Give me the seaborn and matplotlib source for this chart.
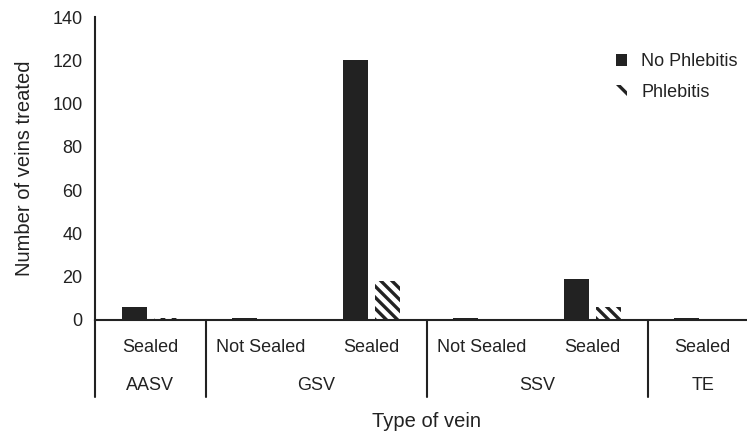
import numpy as np
import pandas as pd
import seaborn as sns
import matplotlib.pyplot as plt
from matplotlib.patches import Patch

sns.set_style("white")
plt.rcParams['font.family'] = ['Liberation Sans', 'DejaVu Sans']
plt.rcParams['hatch.linewidth'] = 2.4

# data
veins = ["AASV", "GSV", "GSV", "SSV", "SSV", "TE"]
status = ["Sealed", "Not Sealed", "Sealed", "Not Sealed", "Sealed", "Sealed"]
no_phlebitis = [6, 1, 120, 1, 19, 1]
phlebitis = [1, 0, 18, 0, 6, 0]

cats = ["%s|%s" % (v, s) for v, s in zip(veins, status)]
df = pd.DataFrame({
    "cat": cats * 2,
    "n": no_phlebitis + phlebitis,
    "grp": ["No Phlebitis"] * len(cats) + ["Phlebitis"] * len(cats),
})

fig = plt.figure(figsize=(7.47, 4.34), dpi=100)
ax = fig.add_axes([95 / 747, 114 / 434, 663 / 747, 303 / 434])

dark = "#222222"
sns.barplot(data=df, x="cat", y="n", hue="grp", order=cats,
            palette=[dark, "white"], width=0.58, gap=0.22,
            linewidth=0, ax=ax, legend=False)

# hatch the phlebitis bars
nb = len(cats)
for i, p in enumerate(ax.patches):
    if i >= nb:
        p.set_hatch("\\\\\\")
        p.set_edgecolor(dark)
        p.set_linewidth(0)

ax.set_ylim(0, 140)
ax.set_xlim(-0.5, 5.5)
ax.set_yticks(range(0, 141, 20))
ax.tick_params(axis="y", labelsize=13, colors=dark, length=0, pad=9)
ax.set_xticks([])
ax.set_xlabel("")
ax.set_ylabel("Number of veins treated", fontsize=14.5, color=dark, labelpad=13)
for s in ["top", "right"]:
    ax.spines[s].set_visible(False)
for s in ["left", "bottom"]:
    ax.spines[s].set_color(dark)
    ax.spines[s].set_linewidth(1.5)

# multi-level x labels
trans = ax.get_xaxis_transform()
ybot = -0.255
for i, s in enumerate(status):
    ax.text(i, -0.09, s, transform=trans, ha="center", va="center", fontsize=13, color=dark)
groups = []
for i, v in enumerate(veins):
    if groups and groups[-1][0] == v:
        groups[-1][2] = i
    else:
        groups.append([v, i, i])
for v, a, b in groups:
    ax.text((a + b) / 2, -0.215, v, transform=trans, ha="center", va="center", fontsize=13, color=dark)
    ax.plot([a - 0.5, a - 0.5], [ybot, 0], transform=trans, color=dark, lw=1.5, clip_on=False)
ax.plot([5.5, 5.5], [ybot, 0], transform=trans, color=dark, lw=1.5, clip_on=False)
ax.text(0.5, -0.335, "Type of vein", transform=ax.transAxes, ha="center", va="center",
        fontsize=14.5, color=dark)

# legend
handles = [Patch(facecolor=dark, edgecolor=dark, linewidth=0, label="No Phlebitis"),
           Patch(facecolor="white", edgecolor=dark, linewidth=0, hatch="\\\\", label="Phlebitis")]
ax.legend(handles=handles, loc="upper left", bbox_to_anchor=(0.786, 0.88), frameon=False,
          borderpad=0, borderaxespad=0,
          fontsize=13, handlelength=0.6, handleheight=0.6, handletextpad=0.8, labelspacing=0.75,
          labelcolor=dark)

fig.savefig("out.png", dpi=100)
